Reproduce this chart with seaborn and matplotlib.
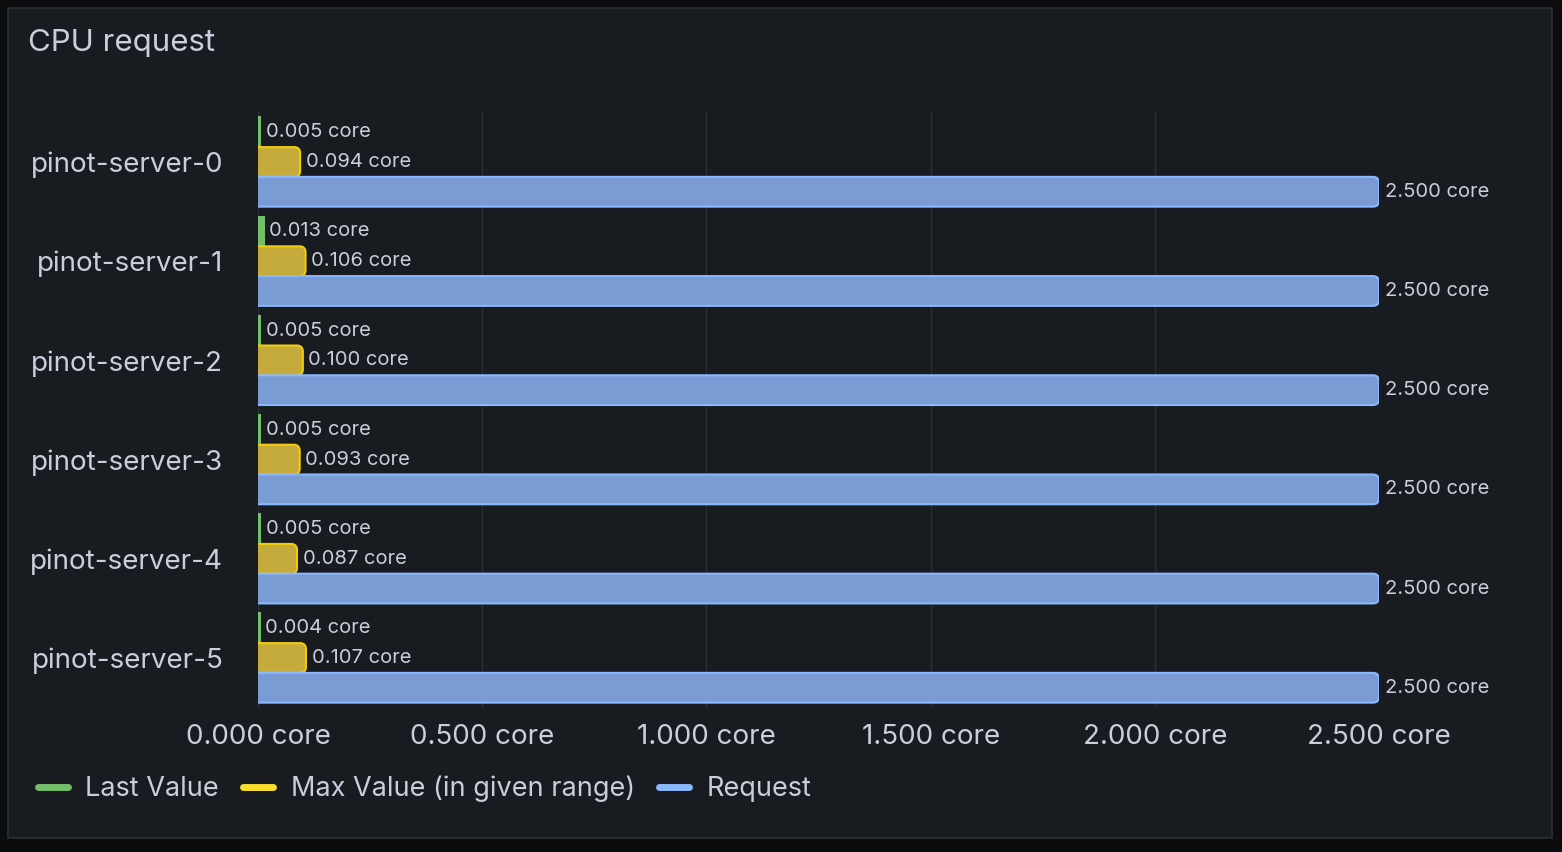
"""
Grafana style horizontal bar chart of CPU request per pinot server.
"""

import numpy as np
import pandas as pd
import seaborn as sns
from matplotlib import pyplot as plt
from matplotlib.lines import Line2D
from matplotlib.patches import Rectangle, FancyBboxPatch


# === Data ===

pods = ["pinot-server-0", "pinot-server-1", "pinot-server-2",
        "pinot-server-3", "pinot-server-4", "pinot-server-5"]
series = ["Last Value", "Max Value (in given range)", "Request"]
last_value = [0.005, 0.013, 0.005, 0.005, 0.005, 0.004]
max_value = [0.094, 0.106, 0.100, 0.093, 0.087, 0.107]
request = [2.5, 2.5, 2.5, 2.5, 2.5, 2.5]
xticks = [0.0, 0.5, 1.0, 1.5, 2.0, 2.5]

fills = ["#73bf69", "#c4ab3c", "#7a9bd4"]
edges = ["#73bf69", "#f2cc0c", "#8ab8ff"]
legend_colors = ["#73bf69", "#fade2a", "#8ab8ff"]

bg = "#181b1f"
text_col = "#ccccdc"
grid_col = "#2a2d33"


# === Plot ===

def round_bars(ax, cont, fill, edge):
    """Swap plain bars for ones with rounded right corners."""
    px_x = 2.5 / 1121
    px_y = 1 / 99.2
    r = 6 * px_x
    for bar in cont:
        x, y = bar.get_x(), bar.get_y()
        w, h = bar.get_width(), bar.get_height()
        box = FancyBboxPatch((x - r, y), w + r, h,
                             boxstyle=f"round,pad=0,rounding_size={r}",
                             mutation_aspect=px_y / px_x,
                             facecolor=fill, edgecolor=edge, linewidth=1.5,
                             zorder=3)
        ax.add_patch(box)
        bar.set_visible(False)


def main():
    df = pd.DataFrame({
        "pod": pods * 3,
        "series": np.repeat(series, len(pods)),
        "value": last_value + max_value + request,
    })

    sns.set_theme(style="dark")
    plt.rcParams["font.family"] = ["Inter", "DejaVu Sans"]

    fig = plt.figure(figsize=(15.62, 8.52), dpi=100)
    fig.patch.set_facecolor("#0b0c0e")
    fig.patches.append(Rectangle((8 / 1562, 14 / 852), 1544 / 1562, 830 / 852,
                                 transform=fig.transFigure, facecolor=bg,
                                 edgecolor="#2c2f35", linewidth=1.2, zorder=-1))

    ax = fig.add_axes([258 / 1562, 1 - 707.6 / 852, 1121 / 1562, 595.2 / 852])
    ax.set_facecolor(bg)

    sns.barplot(data=df, y="pod", x="value", hue="series", orient="h",
                palette=fills, saturation=1, width=0.9, ax=ax, legend=False,
                zorder=3)

    ax.set_xlim(0, 2.5)
    ax.set_ylim(5.5, -0.5)

    for i, cont in enumerate(ax.containers):
        for bar in cont:
            bar.set_edgecolor(edges[i])
            bar.set_linewidth(1.5)
        ax.bar_label(cont, labels=[f"{b.get_width():.3f} core" for b in cont],
                     padding=4, color=text_col, fontsize=14.5)
        if i > 0:
            round_bars(ax, cont, fills[i], edges[i])

    ax.set_xticks(xticks)
    ax.set_xticklabels([f"{t:.3f} core" for t in xticks])
    ax.tick_params(axis="x", length=0, pad=12, labelsize=20, labelcolor=text_col)
    ax.tick_params(axis="y", length=0, pad=25, labelsize=20, labelcolor=text_col)
    ax.set_xlabel("")
    ax.set_ylabel("")
    ax.grid(axis="x", color=grid_col, linewidth=1)
    ax.grid(axis="y", visible=False)
    for s in ax.spines.values():
        s.set_visible(False)

    fig.text(28 / 1562, 1 - 43 / 852, "CPU request", color=text_col,
             fontsize=22.5, va="center", ha="left")

    handles = [Line2D([0], [0], color=c, linewidth=5, solid_capstyle="round")
               for c in legend_colors]
    leg = fig.legend(handles, series, loc="center left",
                     bbox_to_anchor=(38 / 1562, 1 - 789 / 852), ncol=3,
                     frameon=False, fontsize=19.5, handlelength=1.1,
                     handletextpad=0.65, columnspacing=0.9,
                     borderpad=0, borderaxespad=0)
    for t in leg.get_texts():
        t.set_color(text_col)

    plt.savefig("out.png", dpi=100, facecolor=fig.get_facecolor())


main()
